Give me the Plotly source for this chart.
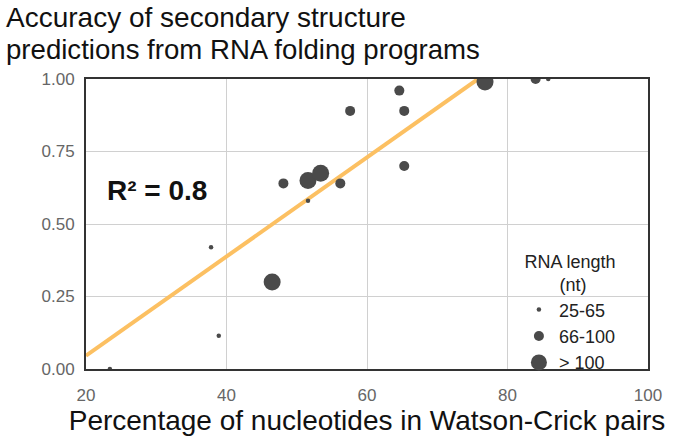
import plotly.graph_objects as go

# ---- data ----
small_x = [23.4, 37.8, 38.9, 51.6, 85.8]
small_y = [0.00, 0.42, 0.115, 0.58, 1.00]
medium_x = [48.1, 56.2, 57.6, 64.6, 65.3, 65.3, 84.0]
medium_y = [0.64, 0.64, 0.89, 0.96, 0.89, 0.70, 1.00]
large_x = [46.5, 51.6, 53.4, 76.8]
large_y = [0.30, 0.65, 0.675, 0.99]
fit_x = [20, 75.8]
fit_y = [0.046, 1.0]

group_names = ["25-65", "66-100", "> 100"]
x_ticks = [20, 40, 60, 80, 100]
y_ticks = [0.00, 0.25, 0.50, 0.75, 1.00]

FONT = "Liberation Sans, Arial, Helvetica, sans-serif"
DOT = "#4a4a4a"
NB = "\u00a0"

fig = go.Figure()
fig.add_trace(go.Scatter(x=fit_x, y=fit_y, mode="lines",
                         line=dict(color="#FCC062", width=4),
                         showlegend=False, hoverinfo="skip"))
for name, xs, ys, sz in [(group_names[0], small_x, small_y, 4.5),
                         (group_names[1], medium_x, medium_y, 10),
                         (group_names[2], large_x, large_y, 17)]:
    fig.add_trace(go.Scatter(x=xs, y=ys, mode="markers", name=name,
                             marker=dict(color=DOT, size=sz, line=dict(width=0))))

fig.update_layout(
    width=677, height=443,
    margin=dict(l=86, r=29, t=79, b=66),
    paper_bgcolor="white", plot_bgcolor="white",
    font=dict(family=FONT, color="#222"),
    title=dict(text="Accuracy of secondary structure",
               font=dict(size=28, color="#111", family=FONT),
               x=6/677, xanchor="left", xref="container",
               y=1 - 7/443, yanchor="top", yref="container"),
    legend=dict(
        title=dict(text="RNA length<br>" + NB * 7 + "(nt)", side="top center",
                   font=dict(size=18, color="#222")),
        font=dict(size=18, color="#222"),
        itemsizing="trace",
        bgcolor="rgba(0,0,0,0)",
        x=0.7703, xanchor="left", y=-0.04, yanchor="bottom",
    ),
    annotations=[
        dict(text="predictions from RNA folding programs", xref="paper", yref="paper",
             x=(4 - 86) / 562, y=(377 - 49) / 298, xanchor="left", yanchor="middle",
             showarrow=False, font=dict(size=27.6, color="#111", family=FONT)),
        dict(text="<b>R² = 0.8</b>", xref="x", yref="y",
             x=30.1, y=0.617, xanchor="center", yanchor="middle",
             showarrow=False, font=dict(size=28, color="#111", family=FONT)),
    ],
)
fig.update_xaxes(range=[20, 100], tickvals=x_ticks, ticktext=[str(v) for v in x_ticks],
                 showgrid=True, gridcolor="#d0d0d0", gridwidth=1,
                 showline=True, linecolor="#333", linewidth=2, mirror=True,
                 ticks="outside", ticklen=10, tickcolor="rgba(0,0,0,0)",
                 tickfont=dict(size=17, color="#666"), zeroline=False,
                 title=dict(text="Percentage of nucleotides in Watson-Crick pairs",
                            font=dict(size=28, color="#111"), standoff=6))
fig.update_yaxes(range=[0, 1], tickvals=y_ticks, ticktext=[f"{v:.2f}" for v in y_ticks],
                 showgrid=True, gridcolor="#d0d0d0", gridwidth=1,
                 showline=True, linecolor="#333", linewidth=2, mirror=True,
                 ticks="outside", ticklen=6, tickcolor="rgba(0,0,0,0)",
                 tickfont=dict(size=17, color="#666"), zeroline=False)

fig.write_html("out.html", config={"displayModeBar": False},
               post_script="document.body.style.margin='0';")
